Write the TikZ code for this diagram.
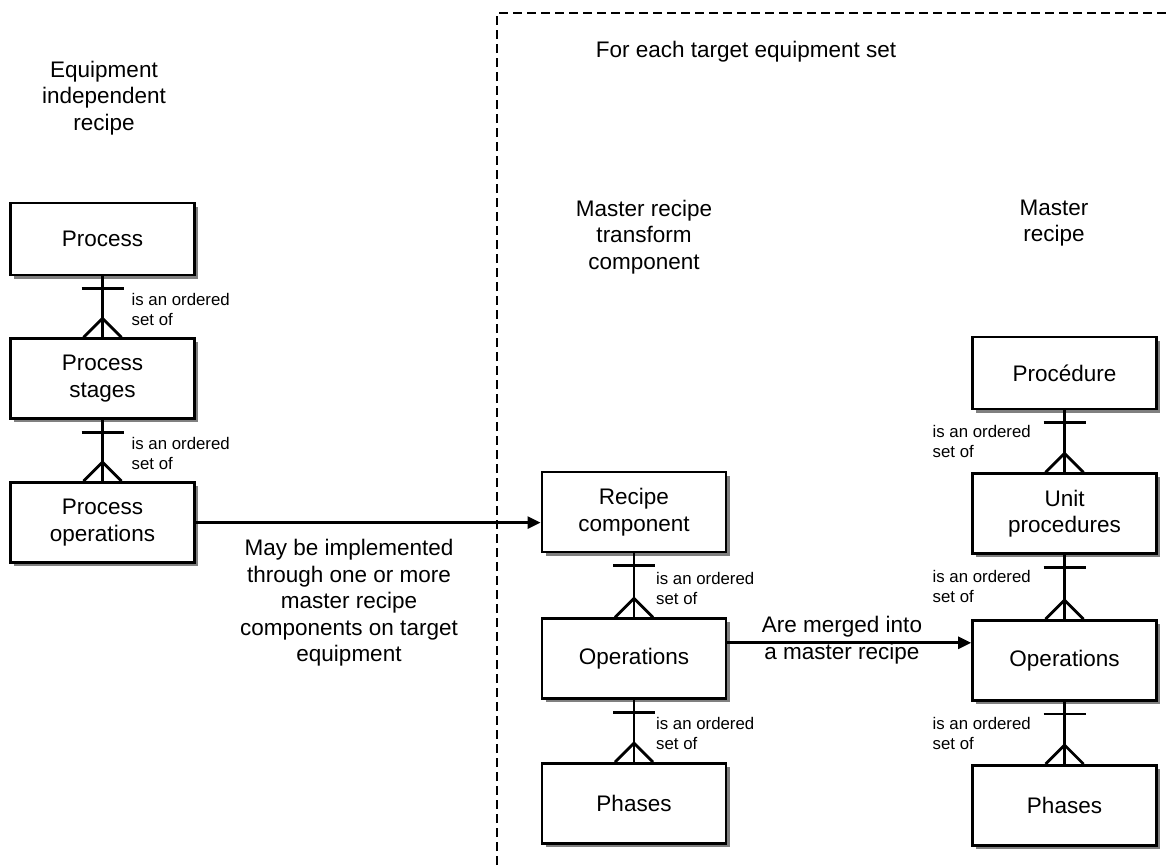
\documentclass[tikz,border=0pt]{standalone}
\usepackage{fontspec}
\setmainfont{Liberation Sans}
\usepackage{tikz}
\usetikzlibrary{arrows.meta, positioning, calc, shadows}
\newcommand{\bigtxt}{\fontsize{22.5}{26.5}\selectfont}
\newcommand{\smalltxt}{\fontsize{16.8}{20}\selectfont}
\tikzstyle{box} = [rectangle, draw, line width=2.8pt, fill=white, minimum width=184pt, minimum height=80pt, align=center, font=\bigtxt, drop shadow={shadow xshift=3.5pt, shadow yshift=-3.5pt, fill=black!50, opacity=1}]
\tikzstyle{title} = [align=center, font=\bigtxt]
\tikzstyle{setlabel} = [align=left, font=\smalltxt, inner sep=0pt]
\tikzstyle{link} = [line width=2.8pt]
\tikzstyle{arrow} = [line width=2.8pt, -{Triangle[length=13pt,width=12pt]}]
\tikzstyle{frame} = [line width=2.4pt, dash pattern=on 9pt off 5pt]
% bar on the upper box, crow's foot on the lower one
\newcommand{\orderedlink}[2]{%
  \draw[link] (#1.south) -- (#2.north);
  \draw[link] ([xshift=-21pt,yshift=-12pt]#1.south) -- ([xshift=21pt,yshift=-12pt]#1.south);
  \draw[link] ([xshift=-19pt]#2.north) -- ([yshift=19pt]#2.north) -- ([xshift=19pt]#2.north);
}

\begin{document}
\begin{tikzpicture}[x=1pt, y=-1pt]
    \useasboundingbox (0,0) rectangle (1170,865);
    \draw[frame] (497,865) -- (497,13) -- (1170,13);

    % headings
    \node (hind) [title] at (104,98) {Equipment\\independent\\recipe};
    \node (heach) [title] at (746,52) {For each target equipment set};
    \node (htrans) [title] at (644,237) {Master recipe\\transform\\component};
    \node (hmaster) [title] at (1054,223) {Master\\recipe};

    % equipment independent recipe
    \node (proc) [box, minimum height=72pt] at (102.5,239) {Process};
    \node (stages) [box, below=61pt of proc] {Process\\stages};
    \node (procops) [box, below=61pt of stages] {Process\\operations};

    % master recipe transform component
    \node (reccomp) [box] at (634,512) {Recipe\\component};
    \node (opsm) [box, below=64pt of reccomp] {Operations};
    \node (phasesm) [box, below=62pt of opsm] {Phases};

    % master recipe
    \node (procedure) [box, minimum height=72pt] at (1064.5,373) {Procédure};
    \node (unitproc) [box, below=62pt of procedure] {Unit\\procedures};
    \node (opsr) [box, below=64pt of unitproc] {Operations};
    \node (phasesr) [box, below=62pt of opsr] {Phases};

    \orderedlink{proc}{stages}
    \orderedlink{stages}{procops}
    \orderedlink{reccomp}{opsm}
    \orderedlink{opsm}{phasesm}
    \orderedlink{procedure}{unitproc}
    \orderedlink{unitproc}{opsr}
    \orderedlink{opsr}{phasesr}

    \node[setlabel, anchor=west] (l1) at ([xshift=29pt,yshift=-33pt]proc.south) {is an ordered\\set of};
    \node[setlabel, anchor=west] (l2) at ([xshift=29pt,yshift=-33pt]stages.south) {is an ordered\\set of};
    \node[setlabel, anchor=west] (l3) at ([xshift=22pt,yshift=-35pt]reccomp.south) {is an ordered\\set of};
    \node[setlabel, anchor=west] (l4) at ([xshift=22pt,yshift=-33pt]opsm.south) {is an ordered\\set of};
    \node[setlabel, anchor=west] (l5) at ([xshift=-132pt,yshift=-31pt]procedure.south) {is an ordered\\set of};
    \node[setlabel, anchor=west] (l6) at ([xshift=-132pt,yshift=-31pt]unitproc.south) {is an ordered\\set of};
    \node[setlabel, anchor=west] (l7) at ([xshift=-132pt,yshift=-31pt]opsr.south) {is an ordered\\set of};

    \draw[arrow] (procops.east) -- (procops.east -| reccomp.west);
    \node (impl) [title] at (349,603) {May be implemented\\through one or more\\master recipe\\components on target\\equipment};

    \draw[arrow] ([yshift=16pt]opsm.east) -- ([yshift=16pt]opsm.east -| opsr.west);
    \node (merge) [title] at (842,640) {Are merged into\\a master recipe};
\end{tikzpicture}
\end{document}
